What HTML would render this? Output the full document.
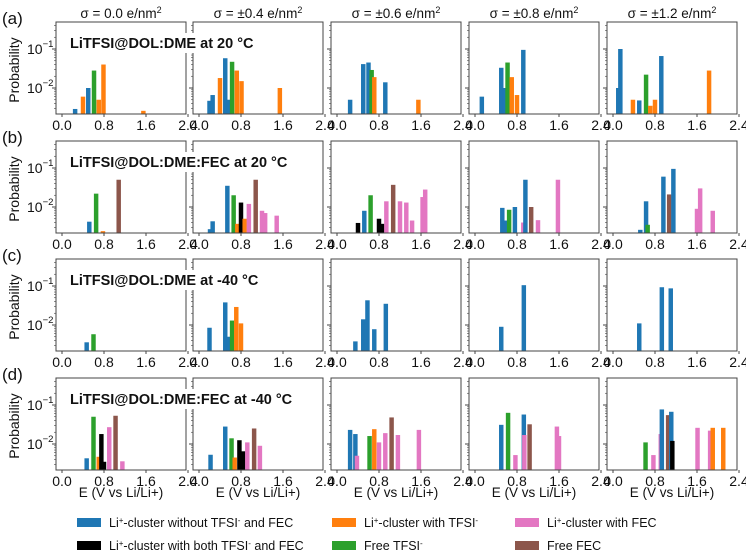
<!DOCTYPE html>
<html><head><meta charset="utf-8">
<style>
html,body{margin:0;padding:0;background:#fff;}
svg{display:block;font-family:"Liberation Sans",Arial,sans-serif;}
</style></head>
<body>
<svg id="chart" width="746" height="557" viewBox="0 0 746 557" xmlns="http://www.w3.org/2000/svg"></svg>
<script>
// ---- data ----
const seriesNames = ["Li+-cluster without TFSI- and FEC","Li+-cluster with TFSI-","Li+-cluster with FEC","Li+-cluster with both TFSI- and FEC","Free TFSI-","Free FEC"];
const seriesColors = ["#1f77b4","#ff7f0e","#e377c2","#000000","#2ca02c","#8c564b"];
const columnTitles = ["σ = 0.0 e/nm","σ = ±0.4 e/nm","σ = ±0.6 e/nm","σ = ±0.8 e/nm","σ = ±1.2 e/nm"];
const rowLetters = ["(a)","(b)","(c)","(d)"];
const rowTitles = ["LiTFSI@DOL:DME at 20 °C","LiTFSI@DOL:DME:FEC at 20 °C","LiTFSI@DOL:DME at -40 °C","LiTFSI@DOL:DME:FEC at -40 °C"];
const xTicks = [0.0, 0.8, 1.6, 2.4];
const xTickLabels = ["0.0","0.8","1.6","2.4"];
const yTickExps = [-1, -2];

// panel data: [row][col] -> arrays of series index, energy, probability
const panelSeries = [
 [[0,1,0,4,1,1,1],[0,0,1,0,0,4,1,1,1],[0,0,0,4,1,0,1],[0,0,0,4,1,1,0],[0,0,1,0,4,1,1,0,1]],
 [[0,4,1,3,5],[0,0,0,4,1,3,1,2,5,2,2,2],[3,0,4,3,3,2,5,2,2,2,2,2],[0,0,4,0,2,0,5,2,2],[0,0,4,0,5,0,2,2,2]],
 [[0,4],[0,0,0,4,1,1],[0,0,0,0,0],[0,0],[0,0,0]],
 [[0,4,1,3,3,2,5,2],[0,0,4,1,3,3,2,5,2],[0,0,2,4,1,2,2,5,2,2],[0,4,2,0,2,5,2,2],[4,2,2,0,5,0,3,2,2,1,1]]
];
const panelE = [
 [[0.25,0.4,0.5,0.61,0.7,0.79,1.55],[0.2,0.26,0.4,0.5,0.56,0.63,0.72,0.81,1.54],[0.25,0.5,0.6,0.66,0.71,0.92,1.55],[0.13,0.5,0.56,0.62,0.7,0.8,0.92],[0.1,0.14,0.38,0.5,0.63,0.71,0.8,0.92,1.83]],
 [[0.52,0.65,0.78,0.8,1.08],[0.21,0.26,0.54,0.66,0.73,0.8,0.87,0.95,1.08,1.2,1.26,1.48],[0.4,0.52,0.64,0.8,0.86,0.94,1.07,1.2,1.32,1.43,1.63,1.68],[0.52,0.57,0.65,0.76,0.92,0.96,1.07,1.2,1.58],[0.52,0.63,0.66,0.96,1.07,1.15,1.6,1.66,1.9]],
 [[0.47,0.6],[0.2,0.5,0.56,0.63,0.71,0.8],[0.35,0.5,0.58,0.71,0.93],[0.5,0.93],[0.5,0.93,1.1]],
 [[0.47,0.6,0.7,0.75,0.8,0.9,1.02,1.15],[0.22,0.5,0.62,0.68,0.77,0.84,0.92,1.05,1.16],[0.25,0.35,0.38,0.62,0.71,0.8,0.92,1.04,1.16,1.56],[0.5,0.63,0.77,0.93,0.94,1.04,1.56,1.6],[0.62,0.77,0.91,0.93,1.05,1.11,1.13,1.61,1.85,1.9,2.1]]
];
const panelP = [
 [[0.0029,0.006,0.01,0.028,0.005,0.04,0.0026],[0.0047,0.0066,0.018,0.058,0.005,0.047,0.028,0.015,0.01],[0.005,0.041,0.045,0.029,0.019,0.014,0.005],[0.006,0.033,0.01,0.045,0.019,0.0066,0.095],[0.01,0.1,0.005,0.0048,0.022,0.0035,0.005,0.066,0.028]],
 [[0.0042,0.022,0.0024,0.0022,0.05],[0.0027,0.0043,0.035,0.02,0.0037,0.013,0.005,0.012,0.05,0.008,0.007,0.006],[0.0039,0.008,0.02,0.005,0.0037,0.014,0.037,0.014,0.013,0.0045,0.018,0.028],[0.0095,0.0045,0.0085,0.01,0.004,0.05,0.01,0.0046,0.05],[0.0026,0.014,0.0035,0.06,0.021,0.095,0.009,0.03,0.008]],
 [[0.0036,0.0058],[0.0085,0.038,0.005,0.013,0.029,0.011],[0.0038,0.014,0.043,0.0078,0.035],[0.009,0.105],[0.011,0.093,0.087]],
 [[0.0043,0.05,0.0047,0.018,0.0035,0.027,0.053,0.0036],[0.0053,0.028,0.014,0.0045,0.0125,0.0065,0.011,0.025,0.009],[0.023,0.018,0.005,0.016,0.024,0.011,0.019,0.048,0.017,0.023],[0.031,0.063,0.0052,0.057,0.017,0.032,0.028,0.016],[0.011,0.0052,0.018,0.077,0.055,0.067,0.012,0.026,0.022,0.026,0.026]]
];

// ---- layout ----
const NS = "http://www.w3.org/2000/svg";
const svg = document.getElementById("chart");
const colLeft = [56, 193, 331, 469, 607];
const rowTop = [22, 141, 259, 378];
const PW = 130, PH = 92;
const pxPerV = 52.5, zeroOff = 6;
const decadePx = 39, decOff = 27;
const barW = 0.085;

function mk(tag, attrs, parent) {
  const el = document.createElementNS(NS, tag);
  for (const k in attrs) el.setAttribute(k, attrs[k]);
  (parent || svg).appendChild(el);
  return el;
}
function xScale(col, e) { return colLeft[col] + zeroOff + e * pxPerV; }
function yScale(row, p) { return rowTop[row] + decOff + (-1 - Math.log10(p)) * decadePx; }

// column titles
columnTitles.forEach((t, c) => {
  const tx = mk("text", {x: colLeft[c] + PW / 2, y: 18, "text-anchor": "middle", "font-size": 13.5, fill: "#111"});
  
  
  tx.textContent = t;
  const s = mk("tspan", {dy: -5, "font-size": 9}, tx);
  s.textContent = "2";
});

for (let r = 0; r < 4; r++) {
  const top = rowTop[r], bot = top + PH;
  const lt = mk("text", {x: 2, y: top + 2, "font-size": 17, fill: "#111"});
  
  
  lt.textContent = rowLetters[r];
  const yl = mk("text", {x: 0, y: 0, transform: `translate(19,${top + PH / 2 + 2}) rotate(-90)`, "text-anchor": "middle", "font-size": 14, fill: "#111"});
  
  
  yl.textContent = "Probability";

  for (let c = 0; c < 5; c++) {
    const left = colLeft[c];
    const g = mk("g", {});
    
    
    const clipId = `cl${r}${c}`;
    const cp = mk("clipPath", {id: clipId}, g);
    mk("rect", {x: left, y: top, width: PW, height: PH}, cp);
    const bars = mk("g", {"clip-path": `url(#${clipId})`}, g);
    const S = panelSeries[r][c], E = panelE[r][c], P = panelP[r][c];
    for (let i = 0; i < S.length; i++) {
      const x0 = xScale(c, E[i] - barW / 2), x1 = xScale(c, E[i] + barW / 2);
      const y = yScale(r, P[i]);
      const b = mk("rect", {x: x0, y: y, width: x1 - x0, height: Math.max(0, bot - y), fill: seriesColors[S[i]]}, bars);
      
      
    }
    const fr = mk("rect", {x: left, y: top, width: PW, height: PH, fill: "none", stroke: "#444", "stroke-width": 1}, g);
    
    
    for (let d = -3; d <= 0; d++) {
      for (let m = 1; m <= 9; m++) {
        const p = m * Math.pow(10, d);
        const y = yScale(r, p);
        if (y < top || y > bot) continue;
        mk("line", {x1: left - (m === 1 ? 4 : 2), x2: left, y1: y, y2: y, stroke: "#444", "stroke-width": m === 1 ? 1 : 0.6}, g);
      }
    }
    if (c === 0) {
      yTickExps.forEach(ex => {
        const y = yScale(r, Math.pow(10, ex));
        const t = mk("text", {x: 27, y: y + 5, "font-size": 14, fill: "#111"}, g);
        
        
        t.textContent = "10";
        const s = mk("tspan", {dy: -7, "font-size": 9.5}, t);
        s.textContent = "−" + (-ex);
      });
    }
    xTicks.forEach((v, i) => {
      const x = xScale(c, v);
      mk("line", {x1: x, x2: x, y1: bot, y2: bot + 3, stroke: "#444"}, g);
      const t = mk("text", {x: x, y: bot + 16, "text-anchor": "middle", "font-size": 14, fill: "#111"}, g);
      
      
      t.textContent = xTickLabels[i];
    });
    if (r === 3) {
      const xt = mk("text", {x: left + PW / 2, y: 497, "text-anchor": "middle", "font-size": 13.5, fill: "#111"});
      
      
      xt.textContent = "E (V vs Li/Li+)";
    }
  }
  const bg = mk("rect", {x: 68, y: top + 11, width: r % 2 ? 222 : 200, height: 20, fill: "#fff"});
  
  
  const rt = mk("text", {x: 70, y: top + 26, "font-size": 14.5, "font-weight": "bold", fill: "#111"});
  
  
  rt.textContent = rowTitles[r];
}

// legend
const legX = [77, 332, 515];
const legY = [523, 546];
const legendParts = [
  [["Li","+","-cluster without TFSI","-"," and FEC"], 0],
  [["Li","+","-cluster with TFSI","-",""], 1],
  [["Li","+","-cluster with FEC","",""], 2],
  [["Li","+","-cluster with both TFSI","-"," and FEC"], 3],
  [["Free TFSI","-","","",""], 4],
  [["Free FEC","","","",""], 5]
];
legendParts.forEach((lp, i) => {
  const col = i % 3, row = Math.floor(i / 3);
  const g = mk("g", {});
  
  
  mk("rect", {x: legX[col], y: legY[row] - 5, width: 24, height: 9, fill: seriesColors[lp[1]]}, g);
  const t = mk("text", {x: legX[col] + 32, y: legY[row] + 4, "font-size": 12.5, fill: "#111"}, g);
  const parts = lp[0];
  const a = mk("tspan", {}, t); a.textContent = parts[0];
  if (parts[1]) { const s = mk("tspan", {dy: -4, "font-size": 8}, t); s.textContent = parts[1]; }
  if (parts[2]) { const s = mk("tspan", {dy: parts[1] ? 4 : 0}, t); s.textContent = parts[2]; }
  if (parts[3]) { const s = mk("tspan", {dy: -4, "font-size": 8}, t); s.textContent = parts[3]; }
  if (parts[4]) { const s = mk("tspan", {dy: 4}, t); s.textContent = parts[4]; }
});
</script>
</body></html>
